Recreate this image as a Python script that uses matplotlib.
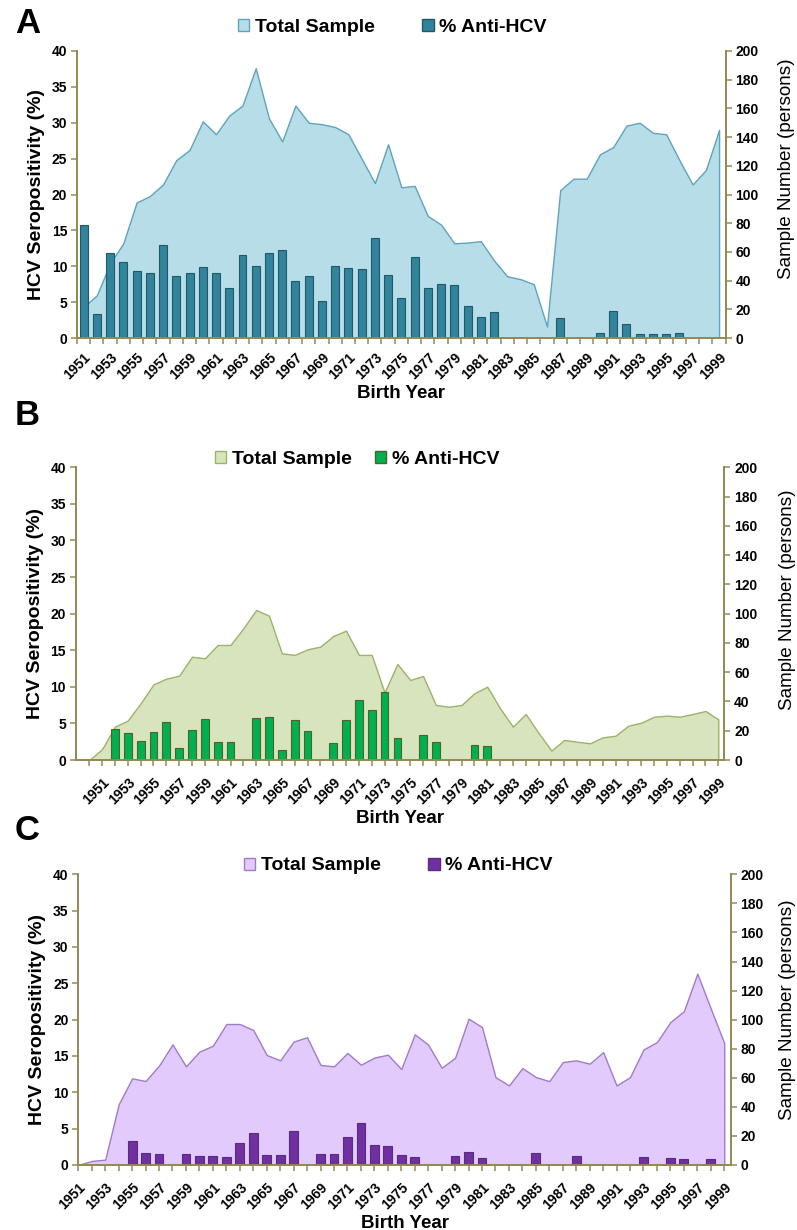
import matplotlib
matplotlib.use('Agg')
import matplotlib.pyplot as plt
from matplotlib.patches import Patch

plt.rcParams['font.family'] = ['Liberation Sans', 'DejaVu Sans']

# Panel A: 1951-1999
years_a = list(range(1951, 2000))
sample_a = [21.6, 29.8, 52, 66, 94.4, 98.9, 107, 124, 131, 151,
            142, 155, 162, 188, 153, 137, 162, 150, 149, 147,
            142, 125, 108, 135, 105, 106, 85, 79, 66, 66.5,
            67.5, 54, 43, 41, 37.5, 8, 103, 111, 111, 128,
            133, 148, 150, 143, 142, 124, 107, 117, 145]
hcv_a = [15.7, 3.3, 11.8, 10.6, 9.4, 9.1, 13.0, 8.7, 9.1, 9.9,
         9.1, 7.0, 11.6, 10.0, 11.8, 12.3, 8.0, 8.6, 5.2, 10.1,
         9.8, 9.6, 13.9, 8.8, 5.6, 11.3, 7.0, 7.5, 7.4, 4.4,
         2.9, 3.6, 0, 0, 0, 0, 2.8, 0, 0, 0.7,
         3.7, 2.0, 0.6, 0.6, 0.6, 0.7, 0, 0, 0]

# Panel B: 1950-1999
years_b = list(range(1950, 2000))
sample_b = [0, 7.5, 22.8, 27, 38.7, 51.7, 55.6, 57.6, 70.6, 69.5,
            78.6, 78.6, 90, 102.5, 98.6, 72.9, 71.8, 75.6, 77.5, 84.7,
            88.4, 71.8, 71.8, 46.2, 65.6, 54.7, 57.4, 37.6, 36.4, 37.6,
            45.6, 50.1, 35.3, 22.8, 31.4, 18.5, 6.4, 13.7, 12.5, 11.4,
            15.5, 16.6, 23.5, 25.5, 29.6, 30.3, 29.6, 31.4, 33.5, 27.8]
hcv_b = [0, 0, 4.2, 3.7, 2.55, 3.8, 5.25, 1.65, 4.1, 5.6,
         2.4, 2.4, 0, 5.75, 5.9, 1.3, 5.5, 3.9, 0, 2.3,
         5.5, 8.25, 6.9, 9.25, 3.0, 0, 3.35, 2.5, 0, 0,
         2.05, 1.9, 0, 0, 0, 0, 0, 0, 0, 0,
         0, 0, 0, 0, 0, 0, 0, 0, 0, 0]

# Panel C: 1951-1999
years_c = list(range(1951, 2000))
sample_c = [0, 2.8, 3.7, 41.8, 59.6, 57.8, 68.4, 83, 67.9, 78,
            82.1, 97, 97, 92.9, 75.7, 72, 84.9, 87.9, 68.8, 67.9,
            77.1, 69, 73.9, 75.9, 66, 89.9, 82.8, 66.9, 73.8, 100.7,
            94.9, 60.5, 54.7, 66.7, 60.5, 57.7, 70.8, 72, 69.7, 77.7,
            54.7, 60.5, 79.5, 84.6, 98.4, 105.8, 131.7, 107.6, 83.9]
hcv_c = [0, 0, 0, 0, 3.3, 1.7, 1.47, 0, 1.47, 1.24,
         1.24, 1.06, 3.07, 4.36, 1.38, 1.38, 4.68, 0, 1.47, 1.47,
         3.9, 5.83, 2.7, 2.6, 1.4, 1.06, 0, 0, 1.24, 1.83,
         0.92, 0, 0, 0, 1.6, 0, 0, 1.24, 0, 0,
         0, 0, 1.15, 0, 0.92, 0.78, 0, 0.78, 0]

OLIVE = '#948A54'
W, H = 797, 1230

fig = plt.figure(figsize=(W / 100, H / 100), dpi=100)


def panel(box, years, sample, hcv, xlim, fill, edge, bar, bar_edge, bar_w,
          ticks_between, letter, letter_y, leg_x, leg_y, colspace, rlabel_y):
    # box in pixels: left, right, top, bottom
    l, r, t, b = box
    ax = fig.add_axes([l / W, 1 - b / H, (r - l) / W, (b - t) / H])
    ax2 = ax.twinx()
    # area on the right axis, behind the bars
    ax2.set_zorder(ax.get_zorder() - 1)
    ax.patch.set_visible(False)

    ax2.fill_between(years, 0, sample, facecolor=fill, edgecolor=edge, linewidth=1.0)
    ax.bar(years, hcv, width=bar_w, color=bar, edgecolor=bar_edge, linewidth=0.8)

    ax.set_xlim(xlim)
    ax.set_ylim(0, 40)
    ax2.set_ylim(0, 200)
    ax.set_yticks(range(0, 41, 5))
    ax2.set_yticks(range(0, 201, 20))

    odd = [y for y in years if y % 2 == 1]
    ax.set_xticks(odd)
    ax.set_xticklabels([str(y) for y in odd], rotation=45, ha='right',
                       rotation_mode='anchor', fontsize=10, fontweight='bold')
    if ticks_between:
        ax.set_xticks([y + 0.5 for y in [years[0] - 1] + years], minor=True)
        ax.tick_params(axis='x', which='major', length=0, pad=9)
    else:
        ax.set_xticks(years, minor=True)
        ax.tick_params(axis='x', which='major', length=4, pad=7)
    ax.tick_params(axis='x', which='minor', length=4, color=OLIVE, width=1.1)
    ax.tick_params(axis='x', which='major', color=OLIVE, width=1.1)

    for a in (ax, ax2):
        a.spines['top'].set_visible(False)
        for s in ('left', 'right', 'bottom'):
            a.spines[s].set_color(OLIVE)
            a.spines[s].set_linewidth(1.3)
    ax.tick_params(axis='y', length=4, color=OLIVE, width=1.1, labelsize=10, pad=3)
    ax2.tick_params(axis='y', length=4, color=OLIVE, width=1.1, labelsize=10, pad=3)
    for lab in ax.get_yticklabels() + ax2.get_yticklabels():
        lab.set_fontweight('bold')

    ax.set_ylabel('HCV Seropositivity (%)', fontsize=14, fontweight='bold', labelpad=5)
    lab2 = ax2.set_ylabel('Sample Number (persons)', fontsize=13.6)
    lab2.set_verticalalignment('center')
    ax2.yaxis.set_label_coords((787 - l) / (r - l), (b - rlabel_y) / (b - t))
    ax.set_xlabel('Birth Year', fontsize=13.5, fontweight='bold', labelpad=2)

    fig.text(15 / W, 1 - letter_y / H, letter, fontsize=25, fontweight='bold',
             ha='left', va='baseline')

    handles = [Patch(facecolor=fill, edgecolor=edge, label='Total Sample'),
               Patch(facecolor=bar, edgecolor=bar_edge, label='% Anti-HCV')]
    fig.legend(handles=handles, loc='center left', ncol=2, frameon=False,
               bbox_to_anchor=(leg_x / W, 1 - leg_y / H),
               prop={'weight': 'bold', 'size': 14}, handlelength=0.57,
               handleheight=0.57, handletextpad=0.3, columnspacing=colspace,
               borderpad=0, borderaxespad=0)
    return ax


# A
panel((77, 725.7, 51, 338), years_a, sample_a, hcv_a,
      (1950.5, 1999.5), '#B7DEE8', '#5FA3BC', '#31849B', '#215968', 0.6,
      True, 'A', 33, 238, 27, 2.45, 169)
# B
panel((75.7, 724.3, 467.3, 760), years_b, sample_b, hcv_b,
      (1948.94, 1999.47), '#D7E4BD', '#9BB36A', '#00B050', '#4F6228', 0.6,
      False, 'B', 425, 215, 459, 1.2, 600)
# C
panel((78.3, 730.7, 874.3, 1165), years_c, sample_c, hcv_c,
      (1951, 1999.48), '#E2CAFC', '#A07CC8', '#7030A0', '#5A2A85', 0.65,
      False, 'C', 840, 244, 866, 2.45, 1010)

fig.savefig('out.png', dpi=100)
